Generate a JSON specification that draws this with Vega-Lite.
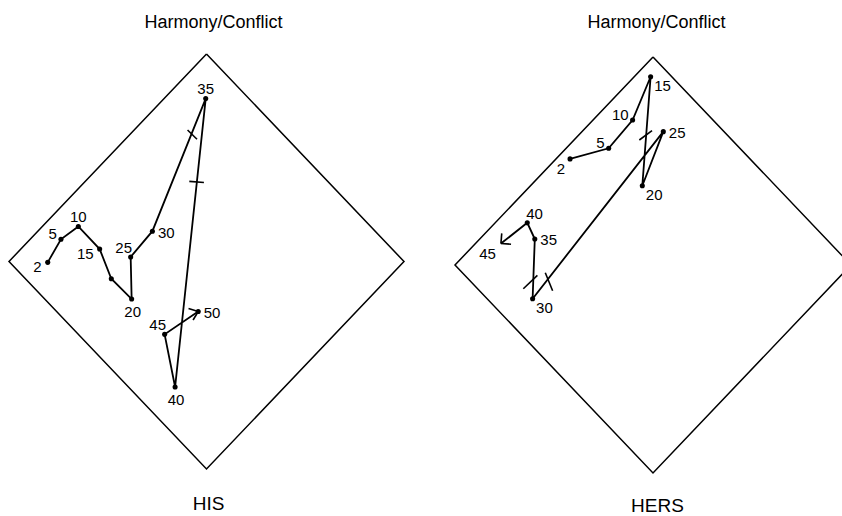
{
  "$schema": "https://vega.github.io/schema/vega-lite/v6.json",
  "background": "white",
  "padding": {"left": 0, "top": 14, "right": 0, "bottom": 0},
  "spacing": 0,
  "bounds": "flush",
  "config": {"view": {"stroke": null}, "font": "Liberation Sans"},
  "datasets": {
    "diamond": [
      {"seq": 1, "u": 0, "v": 1},
      {"seq": 2, "u": 1, "v": 0},
      {"seq": 3, "u": 0, "v": -1},
      {"seq": 4, "u": -1, "v": 0},
      {"seq": 5, "u": 0, "v": 1}
    ],
    "his": [
      {"age": 2, "label": "2", "u": -0.804, "v": -0.004, "pos": "left", "dot": true},
      {"age": 5, "label": "5", "u": -0.737, "v": 0.107, "pos": "upleft", "dot": true},
      {"age": 10, "label": "10", "u": -0.649, "v": 0.169, "pos": "above", "dot": true},
      {"age": 15, "label": "15", "u": -0.541, "v": 0.06, "pos": "left", "dot": true},
      {"age": 17, "label": "", "u": -0.482, "v": -0.083, "pos": "none", "dot": true},
      {"age": 20, "label": "20", "u": -0.379, "v": -0.181, "pos": "below", "dot": true},
      {"age": 25, "label": "25", "u": -0.384, "v": 0.022, "pos": "aboveleft", "dot": true},
      {"age": 30, "label": "30", "u": -0.274, "v": 0.146, "pos": "right", "dot": true},
      {"age": 35, "label": "35", "u": -0.004, "v": 0.785, "pos": "above", "dot": true},
      {"age": 40, "label": "40", "u": -0.159, "v": -0.605, "pos": "below", "dot": true},
      {"age": 45, "label": "45", "u": -0.212, "v": -0.351, "pos": "aboveleft", "dot": true},
      {"age": 50, "label": "50", "u": -0.042, "v": -0.241, "pos": "right", "dot": true}
    ],
    "his_marks": [
      {"part": "break", "u": -0.096, "v": 0.634, "u2": -0.048, "v2": 0.589},
      {"part": "break", "u": -0.087, "v": 0.386, "u2": -0.013, "v2": 0.381},
      {"part": "arrowhead", "u": -0.042, "v": -0.241, "u2": -0.091, "v2": -0.226},
      {"part": "arrowhead", "u": -0.042, "v": -0.241, "u2": -0.068, "v2": -0.282}
    ],
    "hers": [
      {"age": 2, "label": "2", "u": -0.419, "v": 0.51, "pos": "downleft", "dot": true},
      {"age": 5, "label": "5", "u": -0.224, "v": 0.561, "pos": "upleft", "dot": true},
      {"age": 10, "label": "10", "u": -0.103, "v": 0.697, "pos": "upleft", "dot": true},
      {"age": 15, "label": "15", "u": -0.012, "v": 0.905, "pos": "downright", "dot": true},
      {"age": 20, "label": "20", "u": -0.054, "v": 0.381, "pos": "downright", "dot": true},
      {"age": 25, "label": "25", "u": 0.052, "v": 0.641, "pos": "right", "dot": true},
      {"age": 30, "label": "30", "u": -0.608, "v": -0.162, "pos": "downright", "dot": true},
      {"age": 35, "label": "35", "u": -0.597, "v": 0.125, "pos": "right", "dot": true},
      {"age": 40, "label": "40", "u": -0.635, "v": 0.203, "pos": "upright", "dot": true},
      {"age": 45, "label": "45", "u": -0.768, "v": 0.103, "pos": "downleft", "dot": false}
    ],
    "hers_marks": [
      {"part": "break", "u": -0.069, "v": 0.601, "u2": -0.005, "v2": 0.646},
      {"part": "break", "u": -0.544, "v": -0.037, "u2": -0.507, "v2": -0.124},
      {"part": "break", "u": -0.655, "v": -0.114, "u2": -0.584, "v2": -0.05},
      {"part": "arrowhead", "u": -0.768, "v": 0.103, "u2": -0.764, "v2": 0.152},
      {"part": "arrowhead", "u": -0.768, "v": 0.103, "u2": -0.717, "v2": 0.1}
    ]
  },
  "hconcat": [
    {
      "width": 421,
      "height": 437,
      "title": {"text": "Harmony/Conflict", "fontSize": 18, "font": "Liberation Sans", "fontWeight": "normal", "color": "black", "offset": 13, "dx": 3, "anchor": "middle", "frame": "group"},
      "encoding": {
        "x": {"field": "u", "type": "quantitative", "scale": {"domain": [-1.0456, 1.0861], "nice": false, "zero": false},
              "axis": {"title": "HIS", "domain": false, "ticks": false, "labels": false, "grid": false, "titleFontSize": 19, "titleFont": "Liberation Sans", "titleFontWeight": "normal", "titleColor": "black", "titlePadding": 12, "titleX": 208}},
        "y": {"field": "v", "type": "quantitative", "scale": {"domain": [-1.0627, 1.0434], "nice": false, "zero": false}, "axis": null}
      },
      "layer": [
        {"data": {"name": "diamond"}, "mark": {"type": "line", "color": "black", "strokeWidth": 1.5, "clip": true}, "encoding": {"order": {"field": "seq", "type": "quantitative"}}},
        {"data": {"name": "his"}, "mark": {"type": "line", "color": "black", "strokeWidth": 1.8}, "encoding": {"order": {"field": "age", "type": "quantitative"}}},
        {"data": {"name": "his_marks"}, "mark": {"type": "rule", "color": "black", "strokeWidth": 1.6}, "encoding": {"x2": {"field": "u2"}, "y2": {"field": "v2"}}},
        {"data": {"name": "his"}, "transform": [{"filter": "datum.dot"}], "mark": {"type": "circle", "size": 26, "color": "black", "opacity": 1}, "encoding": {}},
        {"data": {"name": "his"}, "transform": [{"filter": "datum.pos == 'left'"}], "mark": {"type": "text", "align": "right", "baseline": "middle", "dx": -6, "dy": 5, "fontSize": 15, "font": "Liberation Sans", "color": "black"}, "encoding": {"text": {"field": "label"}}},
        {"data": {"name": "his"}, "transform": [{"filter": "datum.pos == 'upleft'"}], "mark": {"type": "text", "align": "right", "baseline": "middle", "dx": -4, "dy": -5.5, "fontSize": 15, "font": "Liberation Sans", "color": "black"}, "encoding": {"text": {"field": "label"}}},
        {"data": {"name": "his"}, "transform": [{"filter": "datum.pos == 'aboveleft'"}], "mark": {"type": "text", "align": "center", "baseline": "middle", "dx": -7, "dy": -9, "fontSize": 15, "font": "Liberation Sans", "color": "black"}, "encoding": {"text": {"field": "label"}}},
        {"data": {"name": "his"}, "transform": [{"filter": "datum.pos == 'above'"}], "mark": {"type": "text", "align": "center", "baseline": "middle", "dx": 0, "dy": -9.5, "fontSize": 15, "font": "Liberation Sans", "color": "black"}, "encoding": {"text": {"field": "label"}}},
        {"data": {"name": "his"}, "transform": [{"filter": "datum.pos == 'below'"}], "mark": {"type": "text", "align": "center", "baseline": "middle", "dx": 1, "dy": 13, "fontSize": 15, "font": "Liberation Sans", "color": "black"}, "encoding": {"text": {"field": "label"}}},
        {"data": {"name": "his"}, "transform": [{"filter": "datum.pos == 'right'"}], "mark": {"type": "text", "align": "left", "baseline": "middle", "dx": 5.5, "dy": 1.5, "fontSize": 15, "font": "Liberation Sans", "color": "black"}, "encoding": {"text": {"field": "label"}}}
      ]
    },
    {
      "width": 421,
      "height": 437,
      "title": {"text": "Harmony/Conflict", "fontSize": 18, "font": "Liberation Sans", "fontWeight": "normal", "color": "black", "offset": 13, "dx": 25, "anchor": "middle", "frame": "group"},
      "encoding": {
        "x": {"field": "u", "type": "quantitative", "scale": {"domain": [-1.1717, 0.9545], "nice": false, "zero": false},
              "axis": {"title": "HERS", "domain": false, "ticks": false, "labels": false, "grid": false, "titleFontSize": 19, "titleFont": "Liberation Sans", "titleFontWeight": "normal", "titleColor": "black", "titlePadding": 14, "titleX": 236}},
        "y": {"field": "v", "type": "quantitative", "scale": {"domain": [-1.0433, 1.0577], "nice": false, "zero": false}, "axis": null}
      },
      "layer": [
        {"data": {"name": "diamond"}, "mark": {"type": "line", "color": "black", "strokeWidth": 1.5, "clip": true}, "encoding": {"order": {"field": "seq", "type": "quantitative"}}},
        {"data": {"name": "hers"}, "mark": {"type": "line", "color": "black", "strokeWidth": 1.8}, "encoding": {"order": {"field": "age", "type": "quantitative"}}},
        {"data": {"name": "hers_marks"}, "mark": {"type": "rule", "color": "black", "strokeWidth": 1.6}, "encoding": {"x2": {"field": "u2"}, "y2": {"field": "v2"}}},
        {"data": {"name": "hers"}, "transform": [{"filter": "datum.dot"}], "mark": {"type": "circle", "size": 26, "color": "black", "opacity": 1}, "encoding": {}},
        {"data": {"name": "hers"}, "transform": [{"filter": "datum.pos == 'downleft'"}], "mark": {"type": "text", "align": "right", "baseline": "middle", "dx": -5, "dy": 10.5, "fontSize": 15, "font": "Liberation Sans", "color": "black"}, "encoding": {"text": {"field": "label"}}},
        {"data": {"name": "hers"}, "transform": [{"filter": "datum.pos == 'upleft'"}], "mark": {"type": "text", "align": "right", "baseline": "middle", "dx": -4, "dy": -5.5, "fontSize": 15, "font": "Liberation Sans", "color": "black"}, "encoding": {"text": {"field": "label"}}},
        {"data": {"name": "hers"}, "transform": [{"filter": "datum.pos == 'downright'"}], "mark": {"type": "text", "align": "left", "baseline": "middle", "dx": 3.5, "dy": 9.5, "fontSize": 15, "font": "Liberation Sans", "color": "black"}, "encoding": {"text": {"field": "label"}}},
        {"data": {"name": "hers"}, "transform": [{"filter": "datum.pos == 'right'"}], "mark": {"type": "text", "align": "left", "baseline": "middle", "dx": 5.5, "dy": 1, "fontSize": 15, "font": "Liberation Sans", "color": "black"}, "encoding": {"text": {"field": "label"}}},
        {"data": {"name": "hers"}, "transform": [{"filter": "datum.pos == 'upright'"}], "mark": {"type": "text", "align": "left", "baseline": "middle", "dx": -1, "dy": -9, "fontSize": 15, "font": "Liberation Sans", "color": "black"}, "encoding": {"text": {"field": "label"}}}
      ]
    }
  ]
}
